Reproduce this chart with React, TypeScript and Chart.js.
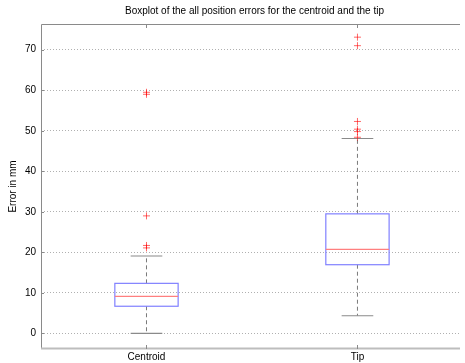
import React, { useEffect, useRef } from "react";
import { Chart, registerables } from "chart.js";

Chart.register(...registerables);

const categories = ["Centroid", "Tip"];
const q1 = [6.7, 16.95];
const median = [9.15, 20.75];
const q3 = [12.35, 29.5];
const whiskerLow = [0, 4.35];
const whiskerHigh = [19.1, 48.1];
const outliersCentroid = [21.1, 21.7, 29.0, 59.0, 59.5];
const outliersTip = [48.4, 49.8, 50.4, 52.3, 71.0, 73.1];
const yTicks = [0, 10, 20, 30, 40, 50, 60, 70];
const titleText = "Boxplot of the all position errors for the centroid and the tip";
const yTitle = "Error in mm";

const FONT = "Liberation Sans, Arial, Helvetica, sans-serif";

export default function App() {
  const ref = useRef<HTMLCanvasElement | null>(null);

  useEffect(() => {
    const canvas = ref.current;
    if (!canvas) return;

    const boxPlugin = {
      id: "boxPlugin",
      beforeDatasetsDraw(chart: any) {
        const ctx = chart.ctx;
        const xs = chart.scales.x;
        const ys = chart.scales.y;
        const boxHalf = 0.15;
        const capHalf = 0.075;
        ctx.save();
        for (let i = 0; i < categories.length; i++) {
          const xc = xs.getPixelForValue(i + 1);
          const xl = xs.getPixelForValue(i + 1 - boxHalf);
          const xr = xs.getPixelForValue(i + 1 + boxHalf);
          const cl = xs.getPixelForValue(i + 1 - capHalf);
          const cr = xs.getPixelForValue(i + 1 + capHalf);
          const yq1 = ys.getPixelForValue(q1[i]);
          const yq3 = ys.getPixelForValue(q3[i]);
          const ym = ys.getPixelForValue(median[i]);
          const ywl = ys.getPixelForValue(whiskerLow[i]);
          const ywh = ys.getPixelForValue(whiskerHigh[i]);
          // whiskers dashed
          ctx.strokeStyle = "#7a7a7a";
          ctx.lineWidth = 1;
          ctx.setLineDash([4, 3]);
          ctx.beginPath();
          ctx.moveTo(xc, yq3);
          ctx.lineTo(xc, ywh);
          ctx.moveTo(xc, yq1);
          ctx.lineTo(xc, ywl);
          ctx.stroke();
          ctx.setLineDash([]);
          // caps
          ctx.strokeStyle = "#8a8a8a";
          ctx.lineWidth = 1.2;
          ctx.beginPath();
          ctx.moveTo(cl, ywh);
          ctx.lineTo(cr, ywh);
          ctx.moveTo(cl, ywl);
          ctx.lineTo(cr, ywl);
          ctx.stroke();
          // box
          ctx.strokeStyle = "#8080ff";
          ctx.lineWidth = 1.2;
          ctx.strokeRect(xl, yq3, xr - xl, yq1 - yq3);
          // median
          ctx.strokeStyle = "#ff7f7f";
          ctx.beginPath();
          ctx.moveTo(xl, ym);
          ctx.lineTo(xr, ym);
          ctx.stroke();
        }
        ctx.restore();
      },
      afterDraw(chart: any) {
        const ctx = chart.ctx;
        const a = chart.chartArea;
        const xs = chart.scales.x;
        const ys = chart.scales.y;
        ctx.save();
        // frame
        ctx.strokeStyle = "#8a8a8a";
        ctx.lineWidth = 1;
        ctx.beginPath();
        ctx.moveTo(a.left + 0.5, a.bottom);
        ctx.lineTo(a.left + 0.5, a.top + 0.5);
        ctx.lineTo(a.right, a.top + 0.5);
        ctx.stroke();
        ctx.strokeStyle = "#bdbdbd";
        ctx.lineWidth = 2;
        ctx.beginPath();
        ctx.moveTo(a.left, a.bottom - 0.5);
        ctx.lineTo(a.right, a.bottom - 0.5);
        ctx.stroke();
        // tick marks
        ctx.strokeStyle = "#8a8a8a";
        ctx.lineWidth = 1;
        ctx.beginPath();
        for (let i = 0; i < categories.length; i++) {
          const x = Math.round(xs.getPixelForValue(i + 1)) + 0.5;
          ctx.moveTo(x, a.top);
          ctx.lineTo(x, a.top + 4);
          ctx.moveTo(x, a.bottom);
          ctx.lineTo(x, a.bottom - 4);
        }
        for (const v of yTicks) {
          const y = Math.round(ys.getPixelForValue(v)) + 0.5;
          ctx.moveTo(a.left, y);
          ctx.lineTo(a.left + 3, y);
        }
        ctx.stroke();
        // title
        ctx.fillStyle = "#000";
        ctx.font = "10px " + FONT;
        ctx.textAlign = "center";
        ctx.textBaseline = "middle";
        ctx.fillText(titleText, (a.left + 468) / 2, 11);
        // y title
        ctx.translate(13, (a.top + a.bottom) / 2);
        ctx.rotate(-Math.PI / 2);
        ctx.fillText(yTitle, 0, 0);
        ctx.restore();
      },
    };

    const chart = new Chart(canvas, {
      type: "scatter",
      data: {
        datasets: [
          {
            label: categories[0],
            data: outliersCentroid.map((v) => ({ x: 1, y: v })),
            pointStyle: "cross",
            radius: 3.5,
            borderColor: "rgba(255,0,0,0.6)",
            borderWidth: 1,
          },
          {
            label: categories[1],
            data: outliersTip.map((v) => ({ x: 2, y: v })),
            pointStyle: "cross",
            radius: 3.5,
            borderColor: "rgba(255,0,0,0.6)",
            borderWidth: 1,
          },
        ],
      },
      options: {
        animation: false,
        responsive: false,
        events: [],
        layout: { padding: { top: 24, left: 0, right: 0, bottom: 0 } },
        plugins: {
          legend: { display: false },
          tooltip: { enabled: false },
          title: { display: false },
        },
        scales: {
          x: {
            type: "linear",
            min: 0.5,
            max: 2.486,
            afterFit: (s: any) => {
              s.height = 14;
            },
            afterBuildTicks: (s: any) => {
              s.ticks = categories.map((_, i) => ({ value: i + 1 }));
            },
            grid: { display: false, drawTicks: false },
            border: { display: false },
            ticks: {
              padding: 2,
              color: "#000",
              font: { family: FONT, size: 10 },
              maxRotation: 0,
              callback: (v: any) => categories[Number(v) - 1] ?? "",
            },
          },
          y: {
            type: "linear",
            min: -3.85,
            max: 76.35,
            afterFit: (s: any) => {
              s.width = 41;
            },
            afterBuildTicks: (s: any) => {
              s.ticks = yTicks.map((v) => ({ value: v }));
            },
            grid: {
              drawTicks: false,
              color: "#b0b0b0",
              lineWidth: 1,
            },
            border: { display: false, dash: [1, 2] },
            ticks: {
              padding: 5,
              color: "#000",
              font: { family: FONT, size: 10 },
            },
          },
        },
      },
      plugins: [boxPlugin],
    } as any);

    // dotted grid
    (chart.options.scales as any).y.grid.borderDash = [1, 2];
    (chart.options.scales as any).y.border.dash = [1, 2];
    chart.update();

    return () => chart.destroy();
  }, []);

  return (
    <div style={{ position: "fixed", left: 0, top: 0, width: 465, height: 363, background: "#fff" }}>
      <canvas ref={ref} width={465} height={363} />
    </div>
  );
}
